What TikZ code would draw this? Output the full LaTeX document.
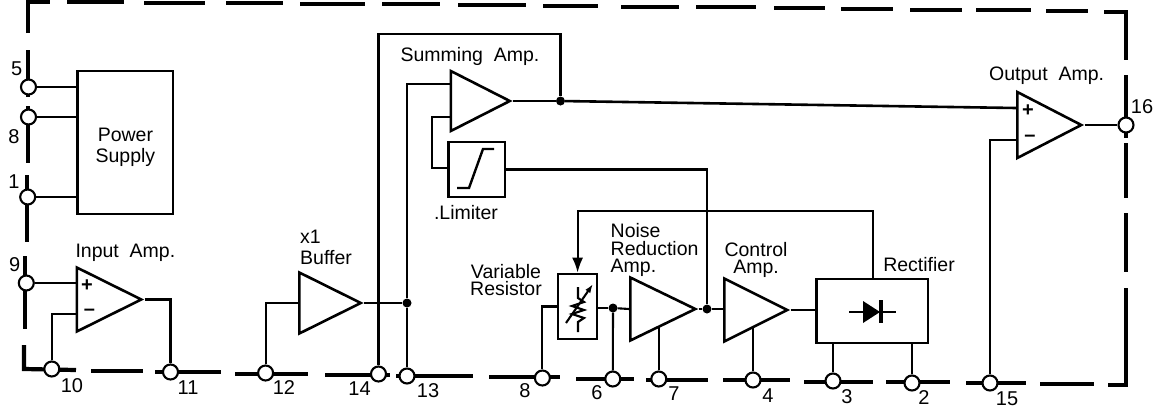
\documentclass[tikz,border=0pt]{standalone}
\usepackage{fontspec}
\setmainfont{Liberation Sans}
\usetikzlibrary{shapes.geometric,arrows.meta}

\begin{document}
\begin{tikzpicture}[
    x=1pt, y=-1pt,
    label/.style={align=center, inner sep=0pt, font=\fontsize{19.5}{17.5}\selectfont},
    num/.style={inner sep=0pt, font=\fontsize{20}{20}\selectfont},
    amp/.style={isosceles triangle, isosceles triangle stretches, draw, line width=2.6pt, inner sep=0pt, minimum width=64pt, minimum height=62pt, anchor=lower side},
    box/.style={rectangle, draw, line width=2.6pt, inner sep=0pt},
    border/.style={line width=4.2pt},
    wire/.style={line width=2.1pt},
    term/.style={circle, draw, line width=2.1pt, fill=white, inner sep=0pt, minimum size=15pt},
    dot/.style={circle, fill=black, inner sep=0pt, minimum size=9pt},
    sign/.style={inner sep=0pt, font=\fontsize{20}{20}\bfseries\selectfont}
]
\useasboundingbox (0,0) rectangle (1157,410);

% dashed package outline
\draw[border] (28,33) -- (28,2) -- (50,2);
\draw[border] (1104,12) -- (1126,12) -- (1126,60);
\draw[border] (1126,288) -- (1126,385) -- (1108,385);
\draw[border] (24,345) -- (24,369) -- (76,370);
\foreach \xa/\ya/\xb/\yb in {67/2/124/2, 144/3/205/3, 226/3/283/3, 300/4/365/4, 382/4/440/4, 458/5/526/5,
    543/6/598/6, 621/7/679/7, 696/7/756/7, 774/8/825/8, 841/9/893/9, 910/10/962/10, 976/10/1031/10, 1046/11/1088/11,
    1126/75/1126/138, 1126/143/1126/198, 1126/213/1126/272,
    1040/384/1094/384, 966/383/1026/383, 886/382/950/382, 804/382/873/382, 723/380/790/380, 646/380/708/380, 576/379/634/379,
    489/377/560/377, 396/376/473/376, 325/375/390/375, 235/374/308/374, 155/372/221/372, 91/371/143/371,
    28/50/28/97, 28/106/28/163, 27/175/27/242, 25/256/25/329}
    \draw[border] (\xa,\ya) -- (\xb,\yb);

% terminals
\foreach \name/\x/\y in {five/28.5/87, eight/28.5/117, one/27.7/197, nine/26.3/283, ten/51.8/369, eleven/170.5/372,
    twelve/265.6/373, fourteen/378.5/374, thirteen/407/376, eightb/542.4/378, six/612.8/379, seven/658.8/379,
    four/753/380, three/833/381, two/912/383, fifteen/990/383, sixteen/1126/125}
    \node[term] (pin\name) at (\x,\y) {};

% blocks
\node[box, minimum width=95.4pt, minimum height=143pt] (power) at (125.4,142.5) {};
\node[amp, minimum height=64.5pt] (input) at (75.5,299.5) {};
\node[amp, minimum height=61.5pt, minimum width=61pt] (buffer) at (298,303) {};
\node[amp, minimum height=59pt, minimum width=60pt] (summing) at (449.5,101) {};
\node[box, minimum width=56.6pt, minimum height=55pt] (limiter) at (476.7,169.5) {};
\node[box, minimum width=39pt, minimum height=65pt] (varres) at (577.6,306.5) {};
\node[amp, minimum height=65pt, minimum width=63pt] (noise) at (629,309) {};
\node[amp, minimum height=63pt, minimum width=63pt] (control) at (723,310) {};
\node[box, minimum width=111.6pt, minimum height=64pt] (rectifier) at (872,311) {};
\node[amp, minimum height=64pt, minimum width=66pt] (output) at (1016,125) {};

% block symbols
\draw[wire, line width=2.4pt] (457,188) -- (469,188) -- (483,149) -- (494,149);
\draw[wire] (578,287) -- (578,298) -- (584,302) -- (572,306) -- (584,310) -- (572,314) -- (584,318) -- (578,322) -- (578,332);
\draw[wire, -{Latex[length=9pt,width=6pt]}] (566,323) -- (593,284);
\draw[wire] (849,312) -- (896,312);
\fill (863,301) -- (880,312) -- (863,323) -- cycle;
\draw[line width=3.6pt] (881,300) -- (881,323);
\node[sign] (inputplus) at (87,286) {+};
\node[sign] (inputminus) at (89.5,312) {–};
\node[sign] (outputplus) at (1028,111) {+};
\node[sign] (outputminus) at (1030,138) {–};

% junctions and wire corners
\node[dot] (jbuffer) at (407,303) {};
\node[dot] (jsumming) at (560.5,101) {};
\node[dot] (jvarres) at (613,308) {};
\node[dot] (jnoise) at (707,309) {};
\coordinate (inputm) at (75.5,314);
\coordinate (sumtop) at (449.5,84);
\coordinate (sumlow) at (449.5,117);
\coordinate (loop) at (432,168);
\coordinate (fbsum) at (560.5,34);
\coordinate (outp) at (1016,108);
\coordinate (outm) at (1016,140);
\coordinate (fbrect) at (873,279);
\coordinate (fbtop) at (873,211);

% connectors
\draw[wire] (pinfive) -- (pinfive -| power.west);
\draw[wire] (pineight) -- (pineight -| power.west);
\draw[wire] (pinone) -- (pinone -| power.west);
\draw[wire] (pinnine) -- (pinnine -| input.lower side);
\draw[wire] (pinten) |- (inputm);
\draw[wire] (input.apex) -| (pineleven);
\draw[wire] (pintwelve) |- (buffer.lower side);
\draw[wire] (buffer.apex) -- (jbuffer);
\draw[wire] (jbuffer) -- (pinthirteen);
\draw[wire] (jbuffer) |- (sumtop);
\draw[wire] (pinfourteen) |- (fbsum) -- (jsumming);
\draw[wire] (summing.apex) -- (jsumming);
\draw[wire, line width=2.6pt] (jsumming) -- (outp);
\draw[wire] (sumlow) -| (loop) -- (limiter.west |- loop);
\draw[wire] (limiter.east) -| (jnoise);
\draw[wire] (noise.apex) -- (jnoise);
\draw[wire] (jnoise) -- (jnoise -| control.lower side);
\draw[wire] (pineightb) |- (varres.west);
\draw[wire] (varres.east |- jvarres) -- (jvarres);
\draw[wire] (jvarres) -- (noise.lower side);
\draw[wire] (pinsix) -- (jvarres);
\draw[wire] (pinseven) -- (pinseven |- noise.right side);
\draw[wire] (pinfour) -- (pinfour |- control.right side);
\draw[wire] (control.apex) -- (control.apex -| rectifier.west);
\draw[wire, -{Latex[length=15pt,width=11pt]}] (fbrect) -- (fbtop) -| (varres.north);
\draw[wire] (pinthree) -- (pinthree |- rectifier.south);
\draw[wire] (pintwo) -- (pintwo |- rectifier.south);
\draw[wire] (pinfifteen) |- (outm);
\draw[wire] (output.apex) -- (pinsixteen);

% labels
\node[label, font=\fontsize{19.5}{21}\selectfont] (lpower) at (125.4,147) {Power\\Supply};
\node[label] (lsumming) at (470,56) {Summing\ \ Amp.};
\node[label] (linput) at (125.4,253) {Input\ \ Amp.};
\node[label, align=left, font=\fontsize{19.5}{21}\selectfont] (lbuffer) at (326,247) {x1\\Buffer};
\node[label] (llimiter) at (466,213) {.Limiter};
\node[label] (lvarres) at (506,280) {Variable\\Resistor};
\node[label, align=left] (lnoise) at (654.6,250) {Noise\\Reduction\\Amp.};
\node[label] (lcontrol) at (756,260) {Control\\Amp.};
\node[label] (lrectifier) at (919,265) {Rectifier};
\node[label] (loutput) at (1046.6,76) {Output\ \ Amp.};

% terminal numbers
\foreach \name/\x/\y/\txt in {five/16.6/69/5, eight/14/137/8, one/14/182/1, nine/14.8/265/9, ten/72/386/10, eleven/188/388/11,
    twelve/284/388/12, fourteen/359.6/389/14, thirteen/428/391/13, eightb/525/391/8, six/597/393/6, seven/674/394/7,
    four/768/396/4, three/847/397/3, two/924/398/2, fifteen/1007/399/15, sixteen/1142/107/16}
    \node[num] (num\name) at (\x,\y) {\txt};
\end{tikzpicture}
\end{document}
